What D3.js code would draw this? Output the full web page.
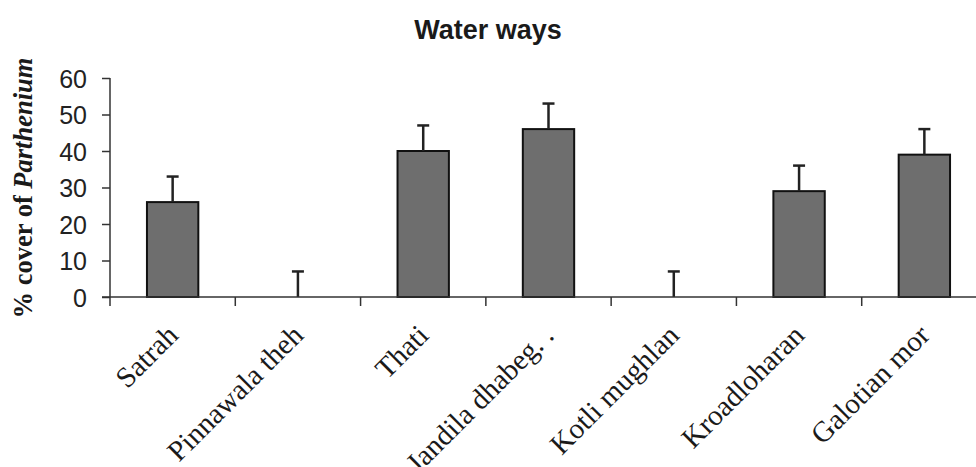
<!DOCTYPE html>
<html><head><meta charset="utf-8">
<script src="https://cdn.jsdelivr.net/npm/d3@7"></script>
<style>body{margin:0;background:#fff}svg{display:block}</style>
</head><body>
<svg id="c" width="976" height="467"></svg>
<script>
const categories = ["Satrah","Pinnawala theh","Thati","Jandila dhabeg. .","Kotli mughlan","Kroadloharan","Galotian mor"];
const values = [26, 0, 40, 46, 0, 29, 39];
const errors = [7, 7, 7, 7, 7, 7, 7];
const yTicks = [0,10,20,30,40,50,60];

const svg = d3.select("#c");
const x = d3.scaleBand().domain(categories).range([110, 987]).paddingInner(0.59).paddingOuter(0.295);
const step = x.step();
const y = d3.scaleLinear().domain([0, 60]).range([297, 78]);

// title
svg.append("text").attr("x", 488).attr("y", 39).attr("text-anchor","middle")
  .style("font-family","Arial, 'Liberation Sans', sans-serif").style("font-weight","bold").style("font-size","27px")
  .attr("fill","#1a1a1a").text("Water ways");

// y label
const yl = svg.append("text").attr("transform","translate(32,188) rotate(-90)").attr("text-anchor","middle")
  .style("font-family","'Liberation Serif','Times New Roman',serif").style("font-weight","bold").style("font-size","26.5px").attr("fill","#1a1a1a");
yl.append("tspan").text("% cover of ");
yl.append("tspan").style("font-style","italic").text("Parthenium");

// bars
svg.append("g").selectAll("rect").data(categories).join("rect")
  .attr("x", d => x(d)).attr("width", x.bandwidth())
  .attr("y", (d,i) => y(values[i])).attr("height", (d,i) => y(0) - y(values[i]))
  .attr("fill", "#6e6e6e").attr("stroke", "#111").attr("stroke-width", 2)
  .attr("display", (d,i) => values[i] > 0 ? null : "none");

// error bars
const eg = svg.append("g").attr("stroke","#222").attr("stroke-width",2.5);
categories.forEach((c,i) => {
  const cx = x(c) + x.bandwidth()/2;
  eg.append("line").attr("x1",cx).attr("x2",cx).attr("y1",y(values[i])).attr("y2",y(values[i]+errors[i]));
  eg.append("line").attr("x1",cx-6).attr("x2",cx+6).attr("y1",y(values[i]+errors[i])).attr("y2",y(values[i]+errors[i]));
});

// y axis
const ya = svg.append("g").attr("transform","translate(110,0)")
  .call(d3.axisLeft(y).tickValues(yTicks).tickSize(8).tickPadding(15).tickFormat(d3.format("d")));
ya.select(".domain").attr("stroke","#333").attr("stroke-width",1.5).attr("d","M0,78V297");
ya.selectAll(".tick line").attr("stroke","#333").attr("stroke-width",1.5);
ya.selectAll(".tick text").style("font-family","Arial, 'Liberation Sans', sans-serif").style("font-size","25px").attr("fill","#222").attr("dy","0.36em");

// x axis
const bounds = categories.map(c => x(c) - x.paddingInner()*step/2);
const xa = svg.append("g").attr("transform","translate(0,297)");
xa.append("line").attr("x1",102).attr("x2",976).attr("stroke","#333").attr("stroke-width",1.5);
xa.selectAll(".tk").data(bounds).join("line").attr("class","tk")
  .attr("x1", d => d).attr("x2", d => d).attr("y1",0).attr("y2",9).attr("stroke","#333").attr("stroke-width",1.5);

// x labels
svg.append("g").selectAll("text").data(categories).join("text")
  .attr("transform", d => `translate(${x(d)+x.bandwidth()/2+7},${337}) rotate(-45)`)
  .attr("text-anchor","end")
  .style("font-family","'Liberation Serif','Times New Roman',serif").style("font-size","29px").attr("fill","#1a1a1a")
  .text(d => d);
</script>
</body></html>
